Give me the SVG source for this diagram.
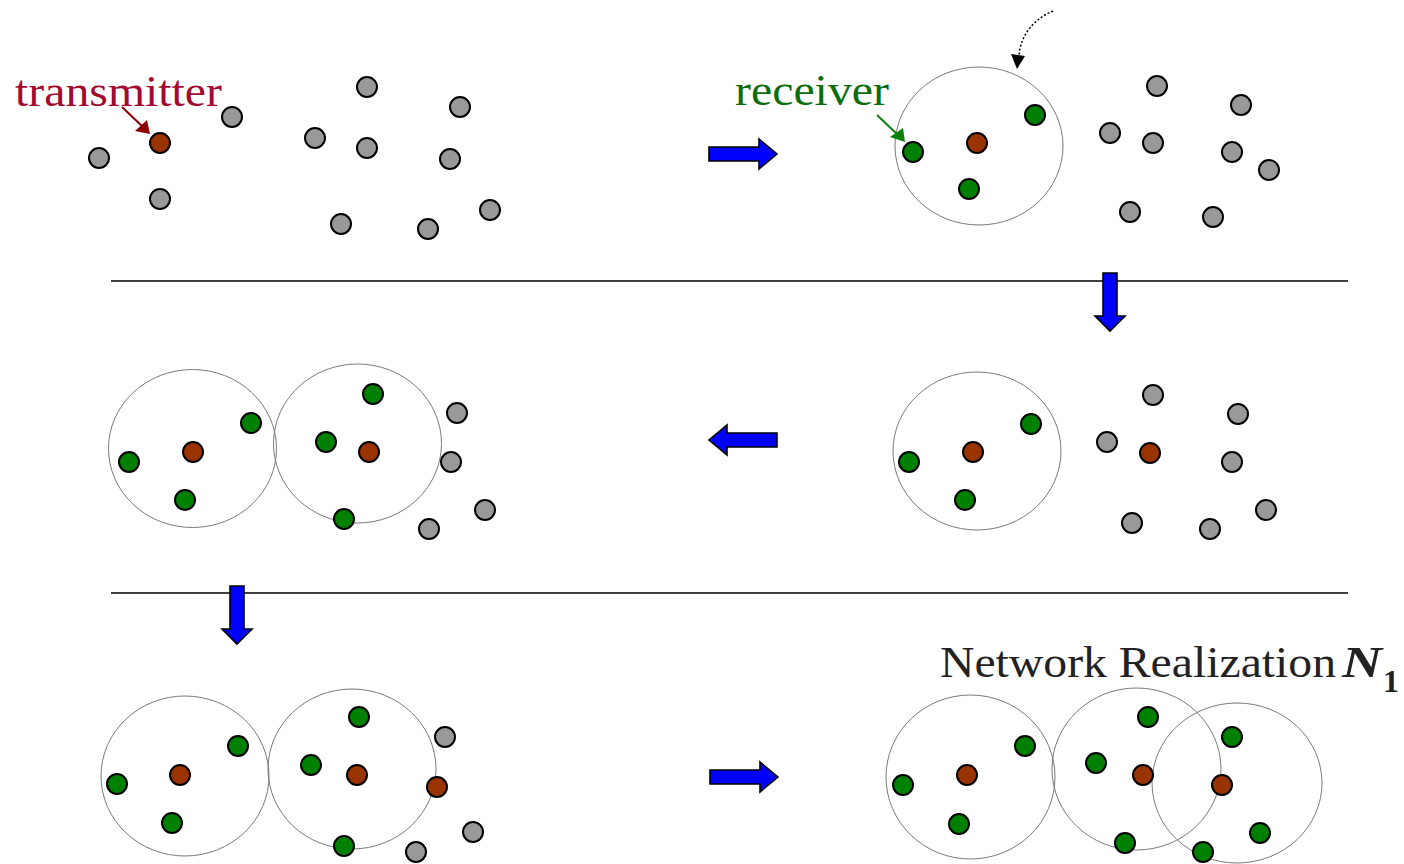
<svg xmlns="http://www.w3.org/2000/svg" width="1404" height="864" viewBox="0 0 1404 864">
  <defs>
    <style>
      .gray { fill: #999999; stroke: #000; stroke-width: 2; }
      .tx { fill: #993300; stroke: #000; stroke-width: 2; }
      .rx { fill: #008000; stroke: #000; stroke-width: 2; }
      .range { fill: none; stroke: #7a7a7a; stroke-width: 1; }
      .flow { fill: #0000ff; stroke: #000; stroke-width: 1.6; stroke-linejoin: miter; }
      .sep { stroke: #000; stroke-width: 1.3; }
      .label { font-family: "Liberation Serif", "Times New Roman", serif; }
    </style>
    <circle id="g" r="10" class="gray"/>
    <circle id="t" r="10" class="tx"/>
    <circle id="r" r="10" class="rx"/>
    <!-- horizontal block arrow, pointing right, tip at origin -->
    <polygon id="arrowR" class="flow" points="-68,-7 -18,-7 -18,-15 0,0 -18,15 -18,7 -68,7"/>
    <!-- vertical block arrow, pointing down, tip at origin -->
    <polygon id="arrowD" class="flow" points="-7,-58 7,-58 7,-15 15,-15 0,0 -15,-15 -7,-15"/>
  </defs>
  <rect width="1404" height="864" fill="#fff"/>

  <!-- separators -->
  <g id="separators">
    <line class="sep" x1="111" y1="281" x2="1348" y2="281"/>
    <line class="sep" x1="111" y1="593" x2="1348" y2="593"/>
  </g>

  <!-- step 1: initial placement -->
  <g id="step1">
    <text class="label" x="15" y="106" font-size="45" fill="#a30a30" textLength="207" lengthAdjust="spacingAndGlyphs">transmitter</text>
    <line x1="122" y1="107" x2="143" y2="127" stroke="#8b0000" stroke-width="2"/>
    <polygon points="150,134 135,131 147,120" fill="#8b0000"/>
    <use href="#t" x="160" y="143"/>
    <use href="#g" x="99" y="158"/>
    <use href="#g" x="232" y="117"/>
    <use href="#g" x="160" y="199"/>
    <use href="#g" x="315" y="138"/>
    <use href="#g" x="367" y="87"/>
    <use href="#g" x="367" y="148"/>
    <use href="#g" x="460" y="107"/>
    <use href="#g" x="450" y="159"/>
    <use href="#g" x="341" y="224"/>
    <use href="#g" x="428" y="229"/>
    <use href="#g" x="490" y="210"/>
  </g>

  <!-- step 2: first transmission range -->
  <g id="step2">
    <ellipse class="range" cx="979" cy="146" rx="84" ry="79"/>
    <text class="label" x="735" y="105" font-size="45" fill="#0b6e0b" textLength="154" lengthAdjust="spacingAndGlyphs">receiver</text>
    <line x1="877" y1="115" x2="898" y2="135" stroke="#0b800b" stroke-width="2"/>
    <polygon points="905,142 890,137 903,128" fill="#0b800b"/>
    <path d="M1053,11 C1036,18 1021,33 1019,55" fill="none" stroke="#000" stroke-width="1.5" stroke-dasharray="2,2"/>
    <polygon points="1017,69 1011,54 1025,56" fill="#000"/>
    <use href="#t" x="977" y="143"/>
    <use href="#r" x="913" y="152"/>
    <use href="#r" x="1035" y="115"/>
    <use href="#r" x="969" y="189"/>
    <use href="#g" x="1157" y="86"/>
    <use href="#g" x="1241" y="105"/>
    <use href="#g" x="1110" y="133"/>
    <use href="#g" x="1153" y="143"/>
    <use href="#g" x="1232" y="152"/>
    <use href="#g" x="1269" y="170"/>
    <use href="#g" x="1130" y="212"/>
    <use href="#g" x="1213" y="217"/>
  </g>

  <!-- step 3: next transmitter chosen -->
  <g id="step3">
    <ellipse class="range" cx="977" cy="451" rx="84" ry="79"/>
    <use href="#t" x="973" y="452"/>
    <use href="#r" x="909" y="462"/>
    <use href="#r" x="1031" y="424"/>
    <use href="#r" x="965" y="500"/>
    <use href="#g" x="1153" y="395"/>
    <use href="#g" x="1238" y="414"/>
    <use href="#g" x="1107" y="442"/>
    <use href="#t" x="1150" y="453"/>
    <use href="#g" x="1232" y="462"/>
    <use href="#g" x="1266" y="510"/>
    <use href="#g" x="1132" y="523"/>
    <use href="#g" x="1210" y="529"/>
  </g>

  <!-- step 4: second transmission range -->
  <g id="step4">
    <ellipse class="range" cx="192.5" cy="448.5" rx="84" ry="79"/>
    <ellipse class="range" cx="357.5" cy="443.5" rx="84" ry="79.5"/>
    <use href="#t" x="193" y="452"/>
    <use href="#r" x="129" y="462"/>
    <use href="#r" x="251" y="423"/>
    <use href="#r" x="185" y="500"/>
    <use href="#t" x="369" y="452"/>
    <use href="#r" x="373" y="394"/>
    <use href="#r" x="326" y="442"/>
    <use href="#r" x="344" y="519"/>
    <use href="#g" x="457" y="413"/>
    <use href="#g" x="451" y="462"/>
    <use href="#g" x="485" y="510"/>
    <use href="#g" x="429" y="529"/>
  </g>

  <!-- step 5: third transmitter chosen -->
  <g id="step5">
    <ellipse class="range" cx="185" cy="776" rx="84" ry="80"/>
    <ellipse class="range" cx="352" cy="769" rx="84" ry="80"/>
    <use href="#t" x="180" y="775"/>
    <use href="#r" x="117" y="784"/>
    <use href="#r" x="238" y="746"/>
    <use href="#r" x="172" y="823"/>
    <use href="#t" x="357" y="775"/>
    <use href="#r" x="359" y="717"/>
    <use href="#r" x="311" y="765"/>
    <use href="#r" x="344" y="846"/>
    <use href="#t" x="437" y="787"/>
    <use href="#g" x="445" y="737"/>
    <use href="#g" x="473" y="832"/>
    <use href="#g" x="416" y="852"/>
  </g>

  <!-- step 6: full network realization -->
  <g id="step6">
    <text class="label" x="940" y="677" font-size="45" fill="#222" textLength="396" lengthAdjust="spacingAndGlyphs">Network Realization</text>
    <text class="label" x="1342" y="677" font-size="45" fill="#222" font-weight="bold" font-style="italic" textLength="40" lengthAdjust="spacingAndGlyphs">N</text>
    <text class="label" x="1383" y="692" font-size="32" fill="#222" font-weight="bold">1</text>
    <ellipse class="range" cx="970.5" cy="777" rx="84.5" ry="82"/>
    <ellipse class="range" cx="1136.5" cy="769" rx="84.5" ry="81"/>
    <ellipse class="range" cx="1237" cy="783" rx="85" ry="80"/>
    <use href="#t" x="967" y="775"/>
    <use href="#r" x="903" y="785"/>
    <use href="#r" x="1025" y="746"/>
    <use href="#r" x="959" y="824"/>
    <use href="#t" x="1143" y="775"/>
    <use href="#r" x="1148" y="717"/>
    <use href="#r" x="1096" y="763"/>
    <use href="#r" x="1125" y="843"/>
    <use href="#t" x="1222" y="785"/>
    <use href="#r" x="1232" y="737"/>
    <use href="#r" x="1260" y="833"/>
    <use href="#r" x="1203" y="852"/>
  </g>

  <!-- progression arrows -->
  <g id="connectors">
    <use href="#arrowR" x="777" y="154"/>
    <use href="#arrowD" x="1110" y="331"/>
    <use href="#arrowR" transform="translate(709,440) scale(-1,1)"/>
    <use href="#arrowD" x="237" y="644"/>
    <use href="#arrowR" x="778" y="777"/>
  </g>
</svg>
